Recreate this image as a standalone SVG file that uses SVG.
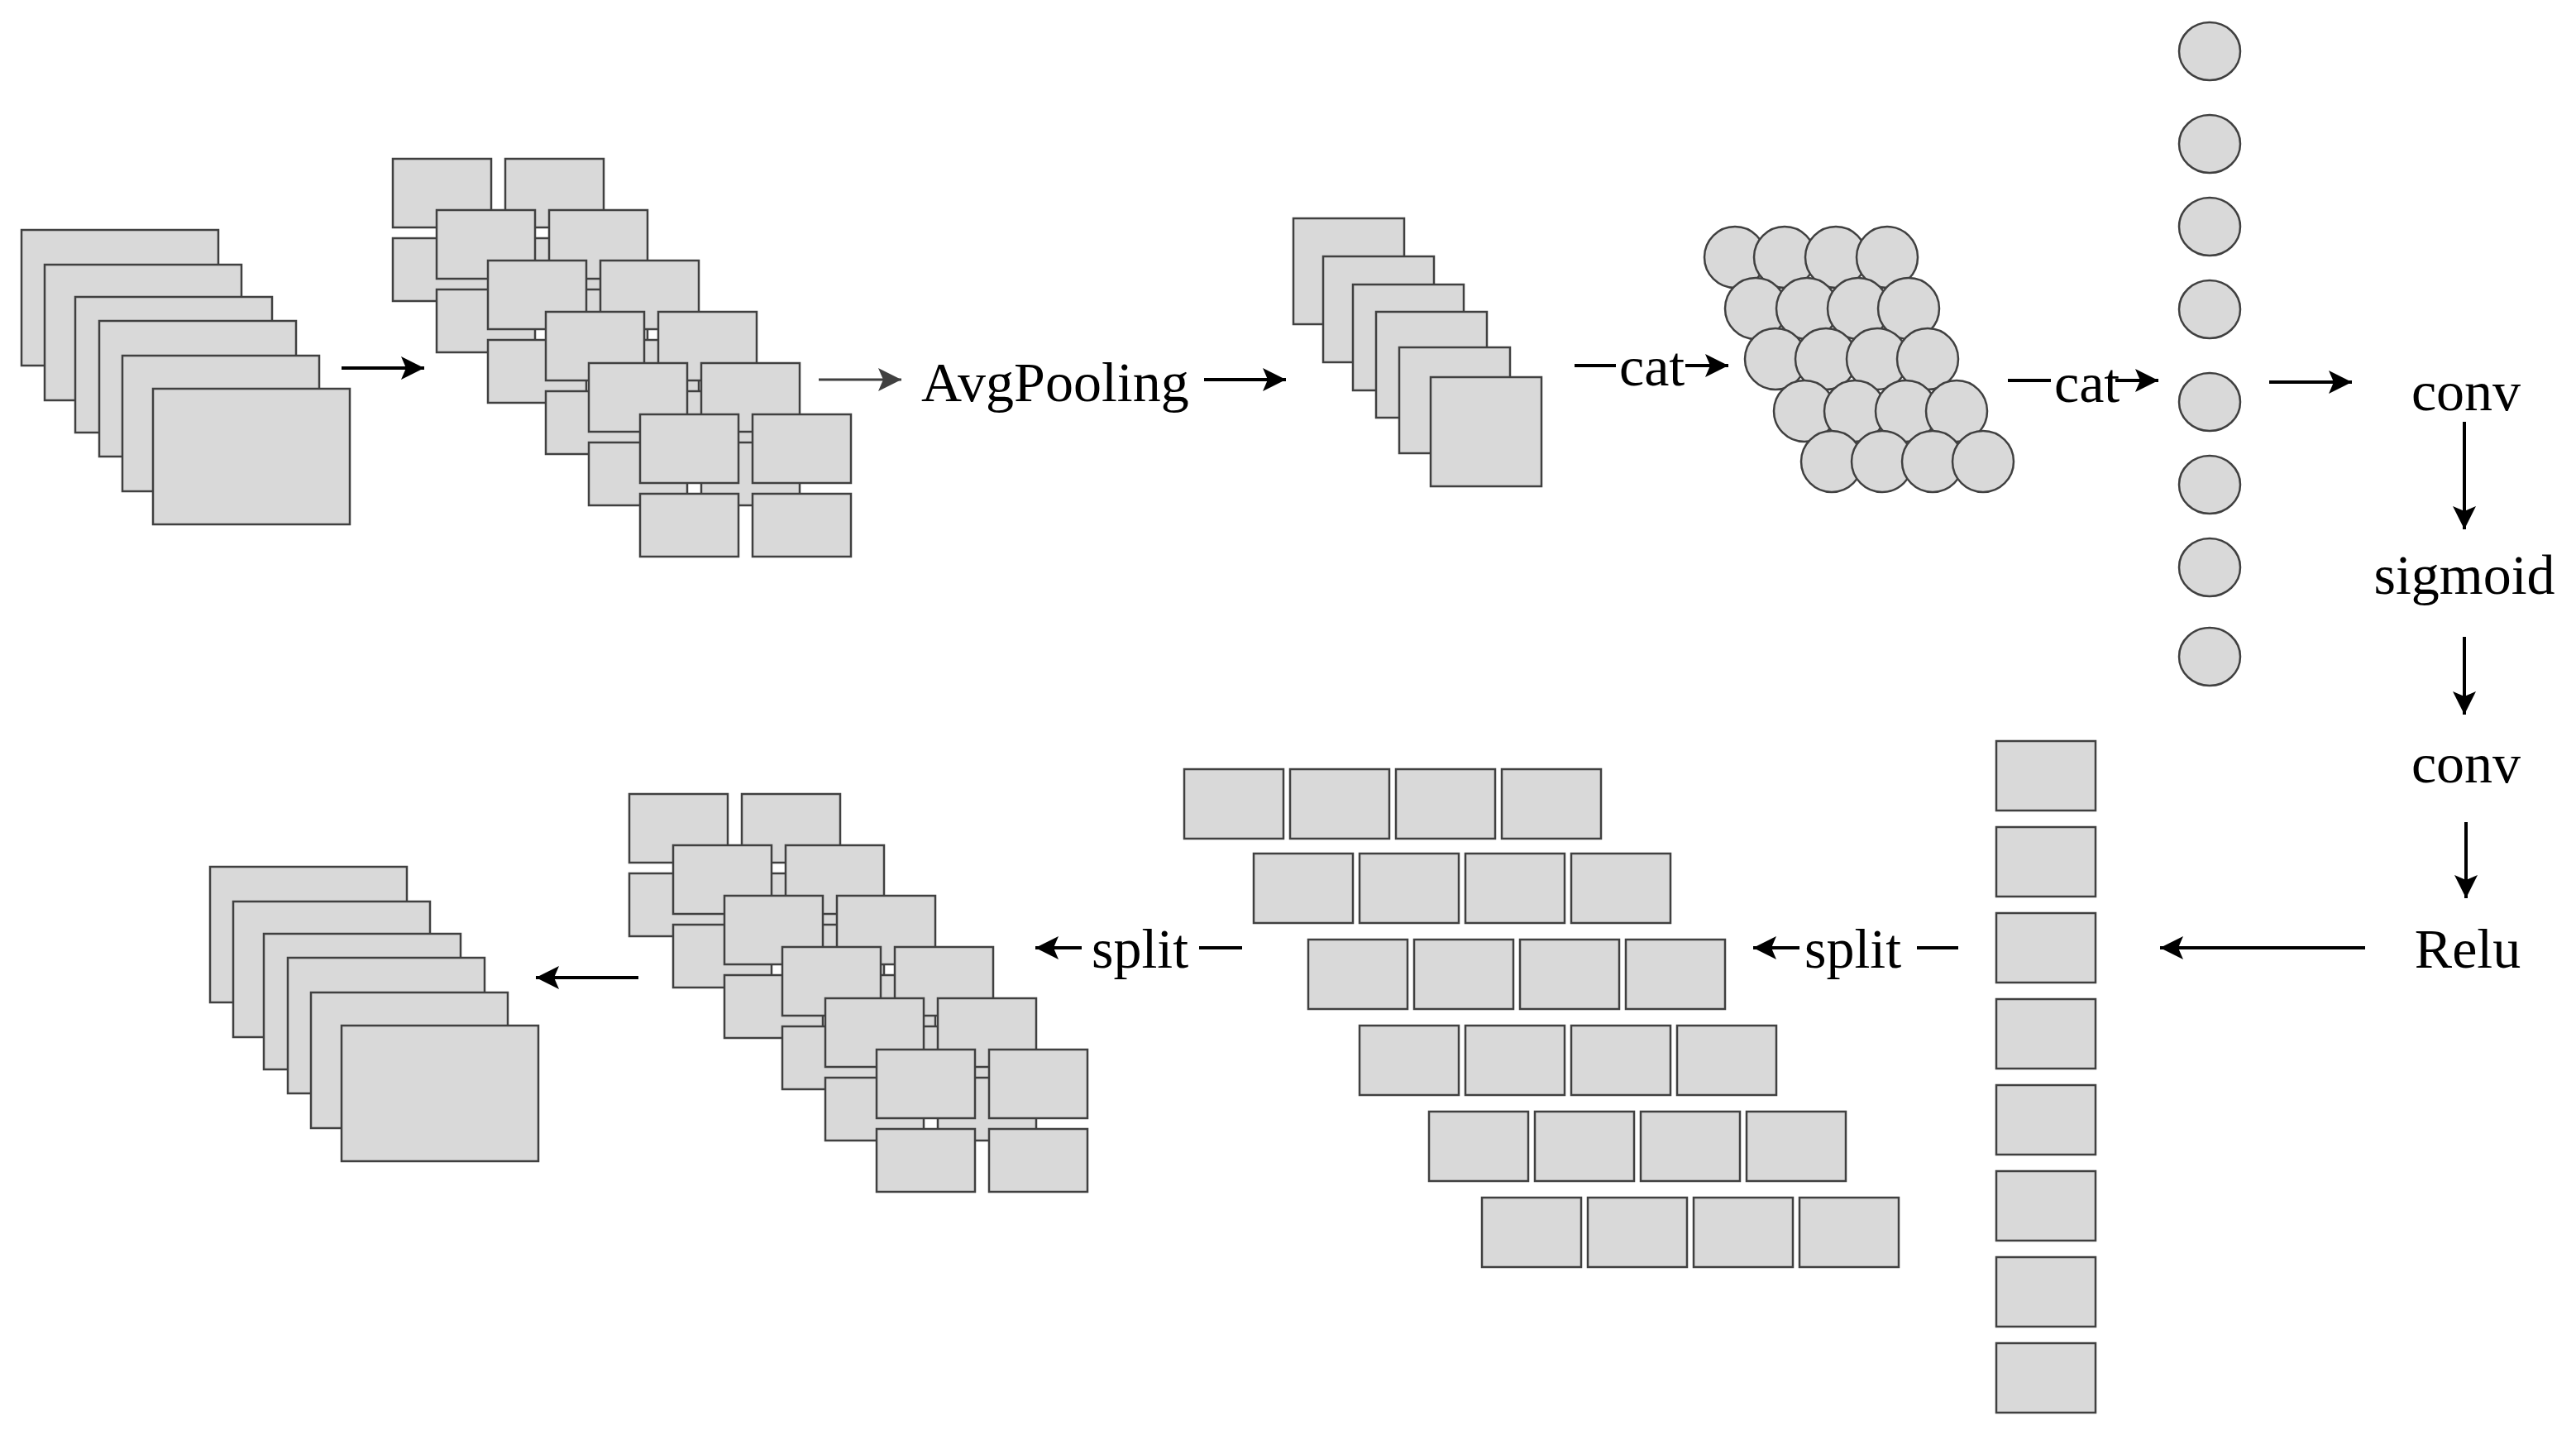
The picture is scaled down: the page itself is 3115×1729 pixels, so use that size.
<svg xmlns="http://www.w3.org/2000/svg" width="3115" height="1729" viewBox="0 0 3115 1729">
<style>
.b{fill:#d9d9d9;stroke:#404040;stroke-width:2.5}
.t{font-family:"Liberation Serif","Times New Roman",serif;font-size:68px;fill:#000}
.a{stroke:#000;stroke-width:4;fill:none}
</style>
<defs>
<marker id="ah" markerUnits="userSpaceOnUse" markerWidth="30" markerHeight="30" refX="28" refY="14" orient="auto"><path d="M0,0 L28,14 L0,28 L6,14 Z" fill="#000"/></marker>
<marker id="ahg" markerUnits="userSpaceOnUse" markerWidth="30" markerHeight="30" refX="28" refY="14" orient="auto"><path d="M0,0 L28,14 L0,28 L6,14 Z" fill="#404040"/></marker>
<g id="stack">
<rect class="b" x="26" y="278" width="238" height="164"/>
<rect class="b" x="54" y="320" width="238" height="164"/>
<rect class="b" x="91" y="359" width="238" height="164"/>
<rect class="b" x="120" y="388" width="238" height="164"/>
<rect class="b" x="148" y="430" width="238" height="164"/>
<rect class="b" x="185" y="470" width="238" height="164"/>
</g>
<g id="cell"><rect class="b" x="0" y="0" width="119" height="83"/><rect class="b" x="136" y="0" width="119" height="83"/><rect class="b" x="0" y="96" width="119" height="76"/><rect class="b" x="136" y="96" width="119" height="76"/></g>
<g id="grid">
<use href="#cell" x="475" y="192"/><use href="#cell" x="528" y="254"/><use href="#cell" x="590" y="315"/><use href="#cell" x="660" y="377"/><use href="#cell" x="712" y="439"/><use href="#cell" x="774" y="501"/>
</g>
</defs>
<rect width="3115" height="1729" fill="#fff"/>
<g id="input"><use href="#stack"/></g>
<g id="split-top"><use href="#grid"/></g>
<g id="pooled">
<rect class="b" x="1564" y="264" width="134" height="128"/>
<rect class="b" x="1600" y="310" width="134" height="128"/>
<rect class="b" x="1636" y="344" width="134" height="128"/>
<rect class="b" x="1664" y="377" width="134" height="128"/>
<rect class="b" x="1692" y="420" width="134" height="128"/>
<rect class="b" x="1730" y="456" width="134" height="132"/>
</g>
<g id="circles" class="b">
<circle cx="2098" cy="311" r="37"/><circle cx="2158" cy="311" r="37"/><circle cx="2220" cy="311" r="37"/><circle cx="2282" cy="311" r="37"/>
<circle cx="2123" cy="373" r="37"/><circle cx="2185" cy="373" r="37"/><circle cx="2247" cy="373" r="37"/><circle cx="2308" cy="373" r="37"/>
<circle cx="2147" cy="434" r="37"/><circle cx="2208" cy="434" r="37"/><circle cx="2270" cy="434" r="37"/><circle cx="2331" cy="434" r="37"/>
<circle cx="2182" cy="497" r="37"/><circle cx="2243" cy="497" r="37"/><circle cx="2305" cy="497" r="37"/><circle cx="2366" cy="497" r="37"/>
<circle cx="2215" cy="558" r="37"/><circle cx="2276" cy="558" r="37"/><circle cx="2337" cy="558" r="37"/><circle cx="2398" cy="558" r="37"/>
</g>
<g id="column" class="b">
<ellipse cx="2672" cy="62" rx="37" ry="35"/><ellipse cx="2672" cy="174" rx="37" ry="35"/><ellipse cx="2672" cy="274" rx="37" ry="35"/><ellipse cx="2672" cy="374" rx="37" ry="35"/>
<ellipse cx="2672" cy="486" rx="37" ry="35"/><ellipse cx="2672" cy="586" rx="37" ry="35"/><ellipse cx="2672" cy="686" rx="37" ry="35"/><ellipse cx="2672" cy="794" rx="37" ry="35"/>
</g>
<g id="weights" class="b">
<rect x="2414" y="896" width="120" height="84"/><rect x="2414" y="1000" width="120" height="84"/><rect x="2414" y="1104" width="120" height="84"/><rect x="2414" y="1208" width="120" height="84"/>
<rect x="2414" y="1312" width="120" height="84"/><rect x="2414" y="1416" width="120" height="84"/><rect x="2414" y="1520" width="120" height="84"/><rect x="2414" y="1624" width="120" height="84"/>
</g>
<g id="bricks" class="b">
<rect x="1432" y="930" width="120" height="84"/><rect x="1560" y="930" width="120" height="84"/><rect x="1688" y="930" width="120" height="84"/><rect x="1816" y="930" width="120" height="84"/>
<rect x="1516" y="1032" width="120" height="84"/><rect x="1644" y="1032" width="120" height="84"/><rect x="1772" y="1032" width="120" height="84"/><rect x="1900" y="1032" width="120" height="84"/>
<rect x="1582" y="1136" width="120" height="84"/><rect x="1710" y="1136" width="120" height="84"/><rect x="1838" y="1136" width="120" height="84"/><rect x="1966" y="1136" width="120" height="84"/>
<rect x="1644" y="1240" width="120" height="84"/><rect x="1772" y="1240" width="120" height="84"/><rect x="1900" y="1240" width="120" height="84"/><rect x="2028" y="1240" width="120" height="84"/>
<rect x="1728" y="1344" width="120" height="84"/><rect x="1856" y="1344" width="120" height="84"/><rect x="1984" y="1344" width="120" height="84"/><rect x="2112" y="1344" width="120" height="84"/>
<rect x="1792" y="1448" width="120" height="84"/><rect x="1920" y="1448" width="120" height="84"/><rect x="2048" y="1448" width="120" height="84"/><rect x="2176" y="1448" width="120" height="84"/>
</g>
<g id="split-bottom"><use href="#grid" x="286" y="768"/></g>
<g id="output"><use href="#stack" x="228" y="770"/></g>
<g id="labels" class="t">
<text x="1114" y="485">AvgPooling</text>
<text x="1958" y="466">cat</text>
<text x="2484" y="486">cat</text>
<text x="2982" y="496" text-anchor="middle">conv</text>
<text x="2980" y="718" text-anchor="middle">sigmoid</text>
<text x="2982" y="946" text-anchor="middle">conv</text>
<text x="2984" y="1170" text-anchor="middle">Relu</text>
<text x="2182" y="1170">split</text>
<text x="1320" y="1170">split</text>
</g>
<g id="connectors">
<line class="a" x1="413" y1="445" x2="513" y2="445" marker-end="url(#ah)"/>
<line x1="990" y1="459" x2="1090" y2="459" stroke="#404040" stroke-width="3" marker-end="url(#ahg)"/>
<line class="a" x1="1456" y1="459" x2="1555" y2="459" marker-end="url(#ah)"/>
<line class="a" x1="1904" y1="442" x2="1954" y2="442"/>
<line class="a" x1="2038" y1="442" x2="2090" y2="442" marker-end="url(#ah)"/>
<line class="a" x1="2428" y1="460" x2="2480" y2="460"/>
<line class="a" x1="2558" y1="460" x2="2610" y2="460" marker-end="url(#ah)"/>
<line class="a" x1="2744" y1="462" x2="2844" y2="462" marker-end="url(#ah)"/>
<line class="a" x1="2980" y1="510" x2="2980" y2="640" marker-end="url(#ah)"/>
<line class="a" x1="2980" y1="770" x2="2980" y2="864" marker-end="url(#ah)"/>
<line class="a" x1="2982" y1="994" x2="2982" y2="1086" marker-end="url(#ah)"/>
<line class="a" x1="2860" y1="1146" x2="2612" y2="1146" marker-end="url(#ah)"/>
<line class="a" x1="2368" y1="1146" x2="2318" y2="1146"/>
<line class="a" x1="2176" y1="1146" x2="2120" y2="1146" marker-end="url(#ah)"/>
<line class="a" x1="1502" y1="1146" x2="1450" y2="1146"/>
<line class="a" x1="1308" y1="1146" x2="1252" y2="1146" marker-end="url(#ah)"/>
<line class="a" x1="772" y1="1182" x2="648" y2="1182" marker-end="url(#ah)"/>
</g>
</svg>
